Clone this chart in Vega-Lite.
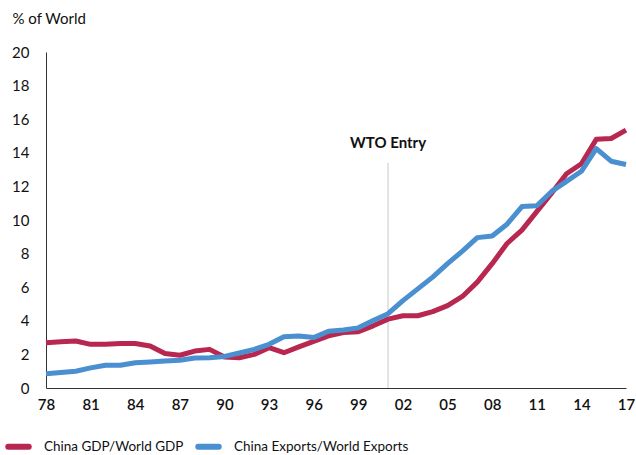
{
  "$schema": "https://vega.github.io/schema/vega-lite/v6.json",
  "width": 580,
  "height": 336,
  "autosize": {"type": "none"},
  "padding": {"left": 46, "top": 52, "right": 10, "bottom": 67},
  "background": "white",
  "config": {
    "view": {"stroke": null},
    "font": "Lato",
    "axis": {"grid": false, "ticks": false, "domainColor": "#333333", "domainWidth": 1, "labelColor": "#111111", "labelFont": "Lato", "labelFontSize": 15, "labelOverlap": false}
  },
  "datasets": {
    "series": [
      {"year": 1978, "series": "China GDP/World GDP", "value": 2.7},
      {"year": 1979, "series": "China GDP/World GDP", "value": 2.75},
      {"year": 1980, "series": "China GDP/World GDP", "value": 2.8},
      {"year": 1981, "series": "China GDP/World GDP", "value": 2.6},
      {"year": 1982, "series": "China GDP/World GDP", "value": 2.6},
      {"year": 1983, "series": "China GDP/World GDP", "value": 2.65},
      {"year": 1984, "series": "China GDP/World GDP", "value": 2.65},
      {"year": 1985, "series": "China GDP/World GDP", "value": 2.5},
      {"year": 1986, "series": "China GDP/World GDP", "value": 2.05},
      {"year": 1987, "series": "China GDP/World GDP", "value": 1.95},
      {"year": 1988, "series": "China GDP/World GDP", "value": 2.2},
      {"year": 1989, "series": "China GDP/World GDP", "value": 2.3},
      {"year": 1990, "series": "China GDP/World GDP", "value": 1.85},
      {"year": 1991, "series": "China GDP/World GDP", "value": 1.8},
      {"year": 1992, "series": "China GDP/World GDP", "value": 2.0},
      {"year": 1993, "series": "China GDP/World GDP", "value": 2.4},
      {"year": 1994, "series": "China GDP/World GDP", "value": 2.1},
      {"year": 1995, "series": "China GDP/World GDP", "value": 2.45},
      {"year": 1996, "series": "China GDP/World GDP", "value": 2.78},
      {"year": 1997, "series": "China GDP/World GDP", "value": 3.1},
      {"year": 1998, "series": "China GDP/World GDP", "value": 3.3},
      {"year": 1999, "series": "China GDP/World GDP", "value": 3.35},
      {"year": 2000, "series": "China GDP/World GDP", "value": 3.7},
      {"year": 2001, "series": "China GDP/World GDP", "value": 4.1},
      {"year": 2002, "series": "China GDP/World GDP", "value": 4.3},
      {"year": 2003, "series": "China GDP/World GDP", "value": 4.3},
      {"year": 2004, "series": "China GDP/World GDP", "value": 4.55},
      {"year": 2005, "series": "China GDP/World GDP", "value": 4.9},
      {"year": 2006, "series": "China GDP/World GDP", "value": 5.45},
      {"year": 2007, "series": "China GDP/World GDP", "value": 6.3},
      {"year": 2008, "series": "China GDP/World GDP", "value": 7.4},
      {"year": 2009, "series": "China GDP/World GDP", "value": 8.6},
      {"year": 2010, "series": "China GDP/World GDP", "value": 9.4},
      {"year": 2011, "series": "China GDP/World GDP", "value": 10.5},
      {"year": 2012, "series": "China GDP/World GDP", "value": 11.6},
      {"year": 2013, "series": "China GDP/World GDP", "value": 12.75},
      {"year": 2014, "series": "China GDP/World GDP", "value": 13.35},
      {"year": 2015, "series": "China GDP/World GDP", "value": 14.8},
      {"year": 2016, "series": "China GDP/World GDP", "value": 14.85},
      {"year": 2017, "series": "China GDP/World GDP", "value": 15.35},
      {"year": 1978, "series": "China Exports/World Exports", "value": 0.85},
      {"year": 1979, "series": "China Exports/World Exports", "value": 0.92},
      {"year": 1980, "series": "China Exports/World Exports", "value": 1.0},
      {"year": 1981, "series": "China Exports/World Exports", "value": 1.2},
      {"year": 1982, "series": "China Exports/World Exports", "value": 1.35},
      {"year": 1983, "series": "China Exports/World Exports", "value": 1.35},
      {"year": 1984, "series": "China Exports/World Exports", "value": 1.5},
      {"year": 1985, "series": "China Exports/World Exports", "value": 1.55},
      {"year": 1986, "series": "China Exports/World Exports", "value": 1.6},
      {"year": 1987, "series": "China Exports/World Exports", "value": 1.65},
      {"year": 1988, "series": "China Exports/World Exports", "value": 1.78},
      {"year": 1989, "series": "China Exports/World Exports", "value": 1.8},
      {"year": 1990, "series": "China Exports/World Exports", "value": 1.88},
      {"year": 1991, "series": "China Exports/World Exports", "value": 2.08},
      {"year": 1992, "series": "China Exports/World Exports", "value": 2.3},
      {"year": 1993, "series": "China Exports/World Exports", "value": 2.6},
      {"year": 1994, "series": "China Exports/World Exports", "value": 3.05},
      {"year": 1995, "series": "China Exports/World Exports", "value": 3.1},
      {"year": 1996, "series": "China Exports/World Exports", "value": 3.0},
      {"year": 1997, "series": "China Exports/World Exports", "value": 3.38},
      {"year": 1998, "series": "China Exports/World Exports", "value": 3.45},
      {"year": 1999, "series": "China Exports/World Exports", "value": 3.58},
      {"year": 2000, "series": "China Exports/World Exports", "value": 4.02},
      {"year": 2001, "series": "China Exports/World Exports", "value": 4.42},
      {"year": 2002, "series": "China Exports/World Exports", "value": 5.2},
      {"year": 2003, "series": "China Exports/World Exports", "value": 5.9},
      {"year": 2004, "series": "China Exports/World Exports", "value": 6.6},
      {"year": 2005, "series": "China Exports/World Exports", "value": 7.4},
      {"year": 2006, "series": "China Exports/World Exports", "value": 8.15},
      {"year": 2007, "series": "China Exports/World Exports", "value": 8.95},
      {"year": 2008, "series": "China Exports/World Exports", "value": 9.05},
      {"year": 2009, "series": "China Exports/World Exports", "value": 9.75},
      {"year": 2010, "series": "China Exports/World Exports", "value": 10.8},
      {"year": 2011, "series": "China Exports/World Exports", "value": 10.85},
      {"year": 2012, "series": "China Exports/World Exports", "value": 11.7},
      {"year": 2013, "series": "China Exports/World Exports", "value": 12.3},
      {"year": 2014, "series": "China Exports/World Exports", "value": 12.9},
      {"year": 2015, "series": "China Exports/World Exports", "value": 14.25},
      {"year": 2016, "series": "China Exports/World Exports", "value": 13.5},
      {"year": 2017, "series": "China Exports/World Exports", "value": 13.3}
    ],
    "wtoRule": [{"year": 2001, "value": 0, "top": 13.4}],
    "wtoLabel": [{"year": 2001, "value": 14.6, "label": "WTO Entry"}]
  },
  "encoding": {
    "x": {
      "field": "year", "type": "quantitative",
      "scale": {"domain": [1978, 2017], "nice": false, "zero": false},
      "axis": {"title": null, "values": [1978, 1981, 1984, 1987, 1990, 1993, 1996, 1999, 2002, 2005, 2008, 2011, 2014, 2017], "format": "d", "labelExpr": "substring(datum.label, 2)", "labelPadding": 9, "labelFontWeight": 600, "labelFlush": false, "labelOverlap": false}
    },
    "y": {
      "field": "value", "type": "quantitative",
      "scale": {"domain": [0, 20], "nice": false},
      "axis": {"values": [0, 2, 4, 6, 8, 10, 12, 14, 16, 18, 20], "labelOverlap": false, "labelFlush": false, "labelPadding": 17, "title": "% of World", "titleAngle": 0, "titleX": -34, "titleY": -34, "titleAlign": "left", "titleBaseline": "middle", "titleFont": "Lato", "titleFontSize": 15, "titleFontWeight": "normal", "titleColor": "#111111"}
    }
  },
  "layer": [
    {
      "data": {"name": "wtoRule"},
      "mark": {"type": "rule", "color": "#c8c8c8", "strokeWidth": 1},
      "encoding": {"y2": {"field": "top"}}
    },
    {
      "data": {"name": "wtoLabel"},
      "mark": {"type": "text", "font": "Lato", "fontSize": 15, "fontWeight": "bold", "color": "#111111", "align": "center", "baseline": "middle"},
      "encoding": {"text": {"field": "label"}}
    },
    {
      "data": {"name": "series"},
      "mark": {"type": "line", "strokeWidth": 5, "strokeJoin": "round", "strokeCap": "butt"},
      "encoding": {
        "color": {
          "field": "series", "type": "nominal",
          "scale": {"domain": ["China GDP/World GDP", "China Exports/World Exports"], "range": ["#B8274F", "#4A8FCF"]},
          "legend": {
            "title": null, "orient": "none", "direction": "horizontal",
            "legendX": -41, "legendY": 381,
            "symbolType": "stroke", "symbolStrokeWidth": 6, "symbolSize": 420,
            "labelFont": "Lato", "labelFontSize": 13.5, "labelColor": "#111111", "labelOffset": 12, "labelLimit": 400,
            "columnPadding": 2,
            "encode": {"symbols": {"update": {"strokeCap": {"value": "round"}}}}
          }
        }
      }
    }
  ]
}
